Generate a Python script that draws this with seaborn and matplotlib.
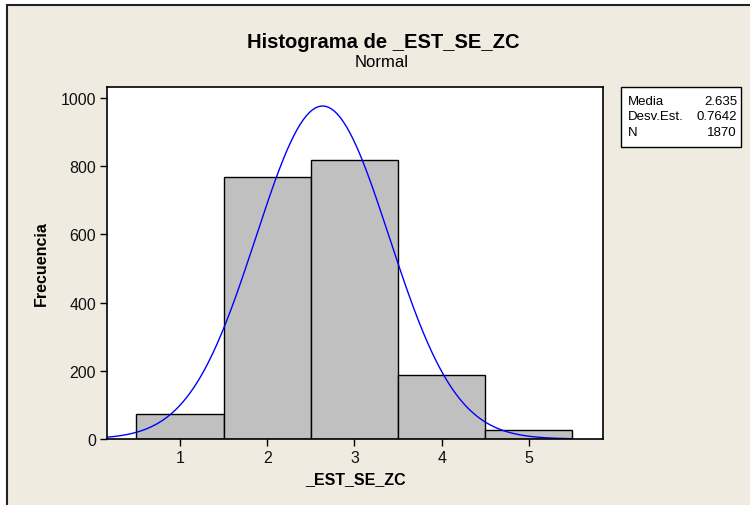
import numpy as np
import pandas as pd
import seaborn as sns
import matplotlib.pyplot as plt
from matplotlib.patches import Rectangle

# histogram bins
bin_centers = [1, 2, 3, 4, 5]
bin_counts = [73, 768, 817, 187, 25]
bin_edges = [0.5, 1.5, 2.5, 3.5, 4.5, 5.5]

# fitted normal (values shown in the stats box)
media = 2.635
desv = 0.7642
n_total = 1870

y_ticks = [0, 200, 400, 600, 800, 1000]
x_ticks = [1, 2, 3, 4, 5]

sns.set_theme(style="white")
plt.rcParams['font.family'] = ['Liberation Sans', 'DejaVu Sans']
plt.rcParams['text.color'] = 'black'
plt.rcParams['axes.labelcolor'] = 'black'

W, H = 750, 506
fig = plt.figure(figsize=(W / 100, H / 100), dpi=100, facecolor='white')

# beige panel with dark frame (Minitab look)
fig.patches.append(Rectangle((7 / W, -0.02), 1.05, 1 - 6 / H + 0.02,
                             transform=fig.transFigure, facecolor='#efebe1',
                             edgecolor='#222222', linewidth=1.5, zorder=-10))

ax = fig.add_axes([107 / W, 1 - 440 / H, 496 / W, 352 / H])
ax.set_facecolor('white')

df = pd.DataFrame({'valor': bin_centers, 'frec': bin_counts})
sns.histplot(data=df, x='valor', weights='frec', bins=bin_edges, ax=ax,
             color='#c0c0c0', edgecolor='black', linewidth=1.0, alpha=1.0)

# normal curve scaled to counts
xs = np.linspace(0.16, 5.5, 300)
ys = n_total * 1.0 / (desv * np.sqrt(2 * np.pi)) * np.exp(-0.5 * ((xs - media) / desv) ** 2)
sns.lineplot(x=xs, y=ys, ax=ax, color='#0000ff', linewidth=1.0)

ax.set_xlim(0.163, 5.85)
ax.set_ylim(0, 1032)
ax.set_xticks(x_ticks)
ax.set_yticks(y_ticks)
ax.tick_params(axis='both', direction='out', length=5, width=1, color='black',
               labelsize=11.5, labelcolor='#111111', pad=3)
ax.tick_params(axis='x', bottom=True)
ax.tick_params(axis='y', left=True)
for sp in ax.spines.values():
    sp.set_color('black')
    sp.set_linewidth(1.2)

ax.set_xlabel('_EST_SE_ZC', fontsize=11.5, fontweight='bold', labelpad=4)
ax.set_ylabel('Frecuencia', fontsize=11.5, fontweight='bold', labelpad=8)

fig.text(383 / W, 1 - 42 / H, 'Histograma de _EST_SE_ZC', ha='center', va='center',
         fontsize=14.5, fontweight='bold')
fig.text(382 / W, 1 - 63 / H, 'Normal', ha='center', va='center', fontsize=12)

# stats box
fig.patches.append(Rectangle((621 / W, 1 - 148 / H), 120 / W, 60 / H,
                             transform=fig.transFigure, facecolor='white',
                             edgecolor='black', linewidth=1.0, zorder=2))
rows = [('Media', f'{media:.3f}'), ('Desv.Est.', f'{desv:.4f}'), ('N', f'{n_total}')]
for i, (lab, val) in enumerate(rows):
    yy = 1 - (102 + 15.5 * i) / H
    fig.text(628 / W, yy, lab, ha='left', va='center', fontsize=9.5, zorder=3)
    fig.text(737 / W, yy, val, ha='right', va='center', fontsize=9.5, zorder=3)

fig.savefig('out.png', dpi=100, facecolor='white')
